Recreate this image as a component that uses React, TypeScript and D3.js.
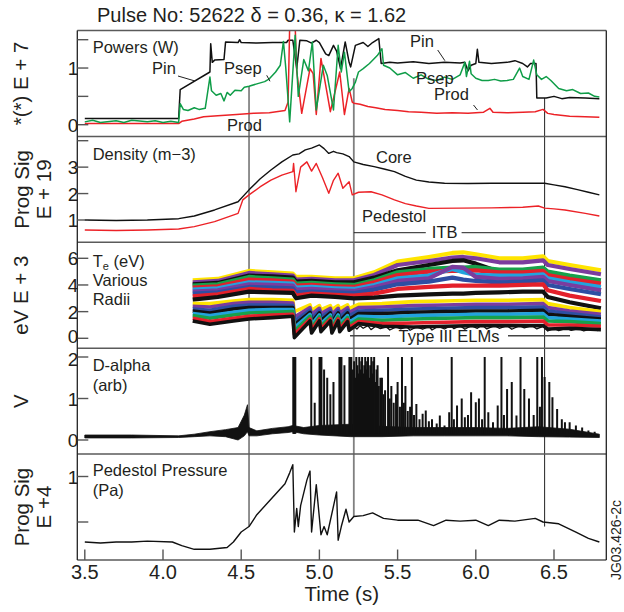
import React from 'react';
import * as d3 from 'd3';

const W = 624;
const H = 612;
const FONT = '"Liberation Sans", Arial, Helvetica, sans-serif';
const INK = '#231f20';

// ---- axis / layout data ----
const X_TICKS = [3.5, 4.0, 4.5, 5.0, 5.5, 6.0, 6.5];
const MARKER_T = [4.55, 5.22, 6.44];
const MARKER_TOP_P = [0.68, 0.82, 0.47]; // power value where marker starts
const MARKER_BOT_PP = [0.45, 0.56, 0.45]; // pressure value where marker ends

// ---- Powers (W) ----
const PIN: [number, number][] = [
  [3.5, 0.11], [4.1, 0.11], [4.11, 0.62], [4.3, 0.93], [4.305, 1.43], [4.315, 1.1], [4.33, 1.14],
  [4.39, 1.15], [4.4, 1.46], [4.48, 1.45], [4.49, 1.5], [4.5, 1.45], [4.6, 1.44], [4.7, 1.45],
  [4.79, 1.45], [4.8, 1.49], [4.83, 1.49], [4.855, 0.99], [4.875, 1.49], [4.92, 1.48], [4.95, 1.44],
  [4.98, 1.49], [5.0, 1.45], [5.04, 1.25], [5.06, 1.22], [5.09, 1.4], [5.11, 1.3], [5.135, 0.99],
  [5.165, 1.46], [5.19, 1.1], [5.2, 1.02], [5.23, 1.4], [5.28, 1.45], [5.31, 1.38], [5.34, 1.45],
  [5.38, 1.52], [5.395, 1.08], [5.45, 1.1], [5.5, 1.09], [5.6, 1.11], [5.7, 1.08], [5.8, 1.1],
  [5.9, 1.09], [5.93, 1.1], [5.95, 0.95], [5.97, 1.05], [6.0, 1.08], [6.01, 1.33], [6.02, 1.1],
  [6.1, 1.08], [6.2, 1.1], [6.25, 1.13], [6.3, 1.08], [6.33, 1.02], [6.35, 1.08], [6.385, 1.08],
  [6.39, 0.47], [6.45, 0.47], [6.5, 0.5], [6.55, 0.46], [6.6, 0.48], [6.7, 0.47], [6.79, 0.46],
];
const PSEP: [number, number][] = [
  [3.5, 0.05], [3.55, 0.08], [3.6, 0.04], [3.7, 0.07], [3.75, 0.04], [3.8, 0.08], [3.9, 0.05],
  [3.95, 0.07], [4.0, 0.04], [4.05, 0.06], [4.1, 0.04], [4.11, 0.37], [4.13, 0.27], [4.16, 0.25],
  [4.2, 0.3], [4.23, 0.27], [4.27, 0.29], [4.3, 0.84], [4.31, 0.6], [4.34, 0.52], [4.37, 0.55],
  [4.39, 0.42], [4.41, 0.57], [4.43, 0.52], [4.46, 0.61], [4.5, 0.6], [4.52, 0.66], [4.55, 0.68],
  [4.6, 0.72], [4.65, 0.76], [4.68, 0.81], [4.72, 0.93], [4.75, 1.05], [4.77, 1.47], [4.785, 1.0],
  [4.81, 0.05], [4.845, 1.58], [4.865, 0.5], [4.9, 1.15], [4.93, 0.95], [4.955, 1.46], [4.98, 0.26],
  [5.025, 1.05], [5.05, 0.87], [5.09, 0.26], [5.12, 1.4], [5.14, 0.93], [5.16, 1.28], [5.19, 0.58],
  [5.21, 0.64], [5.23, 0.75], [5.25, 0.93], [5.28, 0.99], [5.32, 1.08], [5.37, 1.22], [5.4, 1.34],
  [5.41, 1.05], [5.45, 1.0], [5.5, 0.88], [5.55, 0.92], [5.6, 0.82], [5.65, 0.88], [5.7, 0.8],
  [5.75, 0.78], [5.8, 0.84], [5.85, 0.8], [5.9, 0.88], [5.93, 1.1], [5.94, 0.85], [5.96, 1.12],
  [5.97, 0.9], [6.0, 0.82], [6.04, 0.78], [6.08, 0.78], [6.12, 0.8], [6.16, 0.77], [6.2, 0.78],
  [6.24, 0.8], [6.28, 1.0], [6.3, 0.85], [6.34, 0.8], [6.37, 1.14], [6.39, 0.88], [6.42, 0.8],
  [6.45, 0.85], [6.48, 0.78], [6.53, 0.64], [6.58, 0.6], [6.62, 0.62], [6.67, 0.55], [6.72, 0.56],
  [6.76, 0.5], [6.79, 0.49],
];
const PROD: [number, number][] = [
  [3.5, 0.02], [4.1, 0.02], [4.12, 0.06], [4.2, 0.1], [4.26, 0.14], [4.35, 0.16], [4.47, 0.18],
  [4.58, 0.2], [4.68, 0.21], [4.78, 0.25], [4.8, 0.4], [4.81, 1.75], [4.845, 1.75], [4.855, 0.95],
  [4.887, 0.2], [4.94, 0.99], [4.96, 0.9], [4.98, 0.18], [5.01, 1.17], [5.04, 0.7], [5.07, 0.23],
  [5.13, 0.93], [5.16, 0.18], [5.19, 0.64], [5.21, 0.4], [5.22, 0.38], [5.26, 0.36], [5.31, 0.32],
  [5.36, 0.3], [5.42, 0.27], [5.5, 0.25], [5.57, 0.23], [5.65, 0.22], [5.75, 0.2], [5.85, 0.21],
  [5.95, 0.2], [6.0, 0.21], [6.05, 0.22], [6.09, 0.29], [6.11, 0.22], [6.2, 0.21], [6.3, 0.22],
  [6.38, 0.23], [6.43, 0.27], [6.46, 0.2], [6.5, 0.18], [6.6, 0.15], [6.7, 0.14], [6.79, 0.13],
];

// ---- Density (m-3) ----
const CORE: [number, number][] = [
  [3.5, 1.0], [3.7, 0.98], [3.9, 1.0], [4.1, 1.05], [4.2, 1.15], [4.33, 1.38], [4.48, 1.69],
  [4.55, 2.14], [4.62, 2.55], [4.69, 2.89], [4.76, 3.2], [4.83, 3.46], [4.87, 3.5], [4.91, 3.65],
  [4.95, 3.72], [5.0, 3.84], [5.03, 3.7], [5.06, 3.52], [5.09, 3.6], [5.11, 3.55], [5.15, 3.5],
  [5.19, 3.4], [5.22, 3.2], [5.28, 3.1], [5.35, 3.02], [5.42, 2.92], [5.48, 2.83], [5.55, 2.65],
  [5.62, 2.51], [5.7, 2.44], [5.8, 2.39], [5.95, 2.38], [6.1, 2.39], [6.3, 2.39], [6.44, 2.39],
  [6.5, 2.33], [6.57, 2.26], [6.65, 2.15], [6.72, 2.05], [6.79, 1.95],
];
const PED: [number, number][] = [
  [3.5, 0.62], [3.7, 0.6], [3.9, 0.62], [4.1, 0.66], [4.2, 0.75], [4.33, 0.94], [4.48, 1.25],
  [4.51, 1.76], [4.55, 1.95], [4.62, 2.25], [4.69, 2.51], [4.76, 2.7], [4.83, 2.83], [4.835, 3.14],
  [4.85, 2.07], [4.88, 3.0], [4.92, 3.2], [4.95, 2.85], [4.98, 3.14], [5.02, 2.6], [5.06, 2.01],
  [5.09, 2.5], [5.12, 2.77], [5.15, 2.2], [5.19, 2.45], [5.21, 1.95], [5.25, 2.05], [5.33, 2.07],
  [5.4, 1.95], [5.48, 1.76], [5.55, 1.62], [5.62, 1.53], [5.7, 1.44], [5.9, 1.45], [6.1, 1.46],
  [6.3, 1.48], [6.4, 1.53], [6.44, 1.45], [6.5, 1.42], [6.57, 1.38], [6.7, 1.25], [6.79, 1.15],
];

// ---- Te (eV), various radii ----
const TE_UPPER_T = [4.19, 4.35, 4.55, 4.7, 4.83, 4.85, 4.95, 5.1, 5.22, 5.35, 5.5, 5.7, 5.85, 5.92, 6.0, 6.15, 6.3, 6.43, 6.46, 6.6, 6.8];
const TE_UPPER = [
  [4.35, 4.45, 5.05, 4.95, 4.85, 4.6, 4.6, 4.5, 4.5, 4.95, 5.75, 6.1, 6.4, 6.45, 6.3, 6.0, 6.0, 6.15, 5.8, 5.5, 5.1],
  [4.2, 4.3, 4.9, 4.8, 4.7, 4.4, 4.45, 4.35, 4.35, 4.75, 5.5, 5.8, 6.05, 6.1, 6.0, 5.7, 5.7, 5.85, 5.5, 5.2, 4.8],
  [4.05, 4.15, 4.7, 4.65, 4.55, 4.25, 4.3, 4.2, 4.2, 4.55, 5.1, 5.5, 5.8, 5.85, 5.6, 5.0, 4.95, 4.9, 4.6, 4.1, 3.6],
  [3.95, 4.05, 4.6, 4.5, 4.4, 4.1, 4.15, 4.05, 4.0, 4.35, 4.95, 5.2, 5.3, 5.3, 5.35, 5.15, 5.15, 5.3, 5.0, 4.7, 4.35],
  [3.8, 3.9, 4.4, 4.35, 4.25, 3.95, 4.0, 3.9, 3.85, 4.2, 4.75, 5.0, 5.05, 5.05, 5.1, 4.95, 4.95, 5.05, 4.75, 4.45, 4.1],
  [3.65, 3.75, 4.2, 4.15, 4.1, 3.8, 3.85, 3.75, 3.7, 4.0, 4.5, 4.7, 5.2, 4.95, 4.75, 4.7, 4.7, 4.8, 4.5, 4.2, 3.85],
  [3.5, 3.6, 4.05, 4.0, 3.95, 3.65, 3.7, 3.6, 3.55, 3.85, 4.3, 4.5, 5.35, 5.3, 4.6, 4.45, 4.5, 4.6, 4.3, 4.0, 3.6],
  [3.35, 3.45, 3.85, 3.8, 3.75, 3.45, 3.5, 3.45, 3.4, 3.65, 4.05, 4.25, 4.55, 4.4, 4.3, 4.2, 4.25, 4.35, 4.0, 3.7, 3.3],
  [3.15, 3.3, 3.7, 3.6, 3.55, 3.2, 3.35, 3.25, 3.2, 3.35, 3.7, 3.85, 3.95, 3.95, 3.95, 3.95, 4.0, 4.05, 3.6, 3.2, 2.8],
  [2.9, 3.1, 3.5, 3.45, 3.4, 3.0, 3.2, 3.1, 3.0, 3.05, 3.2, 3.3, 3.35, 3.35, 3.4, 3.45, 3.5, 3.5, 3.1, 2.7, 2.25],
];
const TE_UPPER_COLORS = ['#ffe400', '#7b3c9e', '#111111', '#17a14b', '#e3202b', '#22a3dd', '#7b3c9e', '#2e4ea3', '#e3202b', '#111111'];

const TE_LOWER_T = [4.19, 4.3, 4.45, 4.55, 4.7, 4.83, 4.84, 4.94, 4.95, 5.0, 5.01, 5.07, 5.08, 5.12, 5.13, 5.18, 5.19, 5.25, 5.4, 5.6, 5.8, 6.0, 6.2, 6.43, 6.46, 6.6, 6.8];
const TE_LOWER = [
  [2.6, 2.6, 2.8, 2.9, 2.9, 2.85, 2.0, 2.5, 2.1, 2.45, 2.15, 2.45, 2.15, 2.45, 2.2, 2.5, 2.25, 2.55, 2.6, 2.75, 2.8, 2.85, 2.85, 2.9, 2.6, 2.3, 2.0],
  [2.4, 2.35, 2.6, 2.7, 2.7, 2.65, 1.6, 2.3, 1.8, 2.25, 1.85, 2.25, 1.8, 2.25, 1.9, 2.3, 1.95, 2.3, 2.35, 2.45, 2.5, 2.55, 2.55, 2.6, 2.3, 2.05, 1.8],
  [2.2, 2.1, 2.4, 2.5, 2.5, 2.45, 1.3, 2.1, 1.5, 2.05, 1.6, 2.05, 1.5, 2.05, 1.6, 2.1, 1.7, 2.05, 2.1, 2.2, 2.25, 2.3, 2.3, 2.35, 2.05, 1.85, 1.6],
  [2.05, 1.9, 2.2, 2.3, 2.3, 2.3, 1.0, 1.95, 1.2, 1.9, 1.3, 1.9, 1.2, 1.9, 1.3, 1.9, 1.4, 1.85, 1.85, 1.95, 2.0, 2.05, 2.05, 2.1, 1.8, 1.65, 1.45],
  [1.85, 1.7, 1.95, 2.1, 2.15, 2.15, 0.8, 1.8, 1.0, 1.75, 1.1, 1.75, 1.0, 1.75, 1.1, 1.7, 1.2, 1.65, 1.6, 1.7, 1.75, 1.8, 1.8, 1.85, 1.55, 1.45, 1.3],
  [1.7, 1.5, 1.75, 1.9, 1.95, 2.0, 0.55, 1.65, 0.8, 1.6, 0.9, 1.6, 0.8, 1.6, 0.9, 1.55, 1.0, 1.45, 1.35, 1.45, 1.5, 1.55, 1.55, 1.6, 1.3, 1.25, 1.1],
  [1.5, 1.25, 1.5, 1.65, 1.75, 1.8, 0.3, 1.45, 0.6, 1.45, 0.7, 1.45, 0.6, 1.45, 0.7, 1.4, 0.8, 1.25, 1.1, 1.15, 1.2, 1.25, 1.25, 1.3, 1.0, 1.0, 0.9],
  [1.3, 1.05, 1.3, 1.45, 1.55, 1.65, 0.05, 1.3, 0.4, 1.3, 0.5, 1.3, 0.4, 1.3, 0.5, 1.25, 0.6, 1.1, 0.9, 0.85, 0.9, 0.95, 0.95, 0.95, 0.7, 0.75, 0.65],
];
const TE_LOWER_COLORS = ['#ffe400', '#7b3c9e', '#2e4ea3', '#111111', '#22a3dd', '#17a14b', '#e3202b', '#111111'];

// jagged lower edge of the Te band (type III ELM drops)
const TE_EDGE: [number, number][] = [
  [5.22, 0.9], [5.24, 0.7], [5.26, 0.95], [5.28, 0.75], [5.31, 0.95], [5.33, 0.65], [5.36, 0.9],
  [5.39, 0.72], [5.43, 0.85], [5.45, 0.62], [5.49, 0.85], [5.52, 0.7], [5.56, 0.85], [5.58, 0.6],
  [5.62, 0.85], [5.66, 0.68], [5.7, 0.9], [5.72, 0.62], [5.76, 0.9], [5.8, 0.7], [5.84, 0.95],
  [5.86, 0.72], [5.9, 0.95], [5.93, 0.68], [5.97, 0.95], [6.01, 0.75], [6.04, 1.0], [6.07, 0.7],
  [6.12, 0.95], [6.15, 0.75], [6.2, 0.95], [6.23, 0.68], [6.28, 0.95], [6.31, 0.78], [6.36, 0.95],
  [6.39, 0.7], [6.43, 0.9], [6.46, 0.55], [6.5, 0.75], [6.53, 0.58], [6.58, 0.75], [6.61, 0.6],
  [6.66, 0.72], [6.69, 0.55], [6.74, 0.7], [6.78, 0.58],
];

// ---- D-alpha (arb) ----
const DA_BAND: [number, number, number][] = [
  [3.5, 0.05, 0.12], [3.8, 0.05, 0.12], [4.1, 0.06, 0.1], [4.2, 0.08, 0.14], [4.3, 0.1, 0.2],
  [4.4, 0.08, 0.25], [4.48, 0.0, 0.3], [4.52, 0.1, 0.6], [4.54, 0.2, 0.85], [4.55, 0.1, 0.3],
  [4.6, 0.1, 0.22], [4.7, 0.15, 0.28], [4.8, 0.18, 0.32], [4.83, 0.2, 0.35], [4.9, 0.15, 0.3],
  [5.0, 0.12, 0.35], [5.2, 0.08, 0.38], [5.4, 0.08, 0.33], [5.6, 0.1, 0.3], [5.8, 0.1, 0.3],
  [6.0, 0.1, 0.3], [6.2, 0.1, 0.28], [6.4, 0.08, 0.32], [6.6, 0.07, 0.26], [6.79, 0.06, 0.14],
];
const DA_SPIKES: [number, number][] = [
  [4.833, 2], [4.838, 2], [4.842, 2], [4.846, 2], [4.948, 2], [4.97, 0.9],
  [5.001, 2], [5.006, 2], [5.013, 2], [5.03, 1.7], [5.05, 1.5], [5.07, 1.1], [5.09, 1.4], [5.128, 2],
  [5.134, 2], [5.141, 2], [5.16, 1.8], [5.192, 2], [5.198, 2], [5.204, 2], [5.215, 1.7], [5.222, 1.9],
  [5.229, 1.5], [5.236, 2], [5.243, 1.8], [5.25, 1.6], [5.255, 2], [5.262, 1.7], [5.268, 1.9], [5.273, 2],
  [5.28, 1.6], [5.287, 1.8], [5.293, 2], [5.3, 1.7], [5.305, 1.9], [5.311, 2], [5.318, 1.5], [5.325, 1.8],
  [5.332, 2], [5.338, 1.6], [5.344, 1.9], [5.35, 2], [5.357, 1.4], [5.365, 1.7], [5.372, 1.8], [5.38, 1.3],
  [5.39, 1.5], [5.4, 1.5], [5.41, 1.1], [5.42, 1.2], [5.439, 2], [5.45, 1.0], [5.46, 1.3], [5.475, 0.9],
  [5.49, 1.1], [5.5, 1.4], [5.515, 0.8], [5.528, 2], [5.54, 0.9], [5.55, 1.3], [5.565, 0.7], [5.58, 0.8],
  [5.591, 2], [5.605, 0.6], [5.62, 0.87], [5.64, 0.5], [5.66, 0.63], [5.68, 0.71], [5.7, 0.45], [5.72, 0.5],
  [5.75, 0.4], [5.77, 0.59], [5.8, 0.35], [5.83, 0.67], [5.846, 2], [5.86, 0.5], [5.88, 0.83], [5.91, 1.0],
  [5.93, 0.55], [5.95, 0.6], [5.97, 1.15], [6.0, 0.91], [6.02, 1.0], [6.04, 0.5], [6.057, 2], [6.08, 0.67],
  [6.11, 0.43], [6.14, 0.83], [6.164, 2], [6.18, 0.6], [6.2, 1.23], [6.23, 1.4], [6.26, 0.59], [6.286, 2],
  [6.31, 1.23], [6.34, 1.0], [6.37, 0.6], [6.393, 2], [6.41, 0.8], [6.423, 2], [6.44, 1.52], [6.47, 1.4],
  [6.49, 1.03], [6.52, 0.75], [6.55, 0.5], [6.57, 0.43], [6.6, 0.43], [6.64, 0.35], [6.68, 0.3],
  [6.72, 0.23], [6.76, 0.2],
];

// ---- Pedestol pressure (Pa) ----
const PRESS: [number, number][] = [
  [3.5, 0.28], [3.6, 0.27], [3.7, 0.28], [3.8, 0.28], [3.9, 0.29], [4.06, 0.28], [4.12, 0.24],
  [4.2, 0.2], [4.3, 0.2], [4.41, 0.22], [4.45, 0.28], [4.5, 0.39], [4.55, 0.45], [4.6, 0.58],
  [4.7, 0.77], [4.78, 0.92], [4.81, 1.04], [4.83, 1.13], [4.84, 0.39], [4.855, 0.65], [4.865, 0.45],
  [4.88, 0.68], [4.92, 0.96], [4.94, 1.06], [4.95, 0.39], [4.98, 0.91], [5.01, 0.36], [5.03, 0.45],
  [5.05, 0.36], [5.11, 0.83], [5.12, 0.3], [5.14, 0.45], [5.17, 0.64], [5.19, 0.5], [5.22, 0.56],
  [5.28, 0.57], [5.34, 0.6], [5.41, 0.54], [5.5, 0.52], [5.63, 0.52], [5.73, 0.46], [5.81, 0.52],
  [5.9, 0.51], [6.0, 0.52], [6.08, 0.46], [6.15, 0.52], [6.25, 0.51], [6.38, 0.54], [6.43, 0.5],
  [6.53, 0.48], [6.64, 0.39], [6.72, 0.32], [6.79, 0.28],
];

// ---- geometry ----
const LEFT = 77.3;
const RIGHT = 606.3;
const BOUNDS = [30.5, 136.4, 242.3, 348.2, 454.1, 560];

const x = d3.scaleLinear().domain([3.5, 6.5]).range([84.8, 554]);
const yP = d3.scaleLinear().domain([0, 1.5]).range([124.7, 39.7]);
const yN = d3.scaleLinear().domain([1, 4]).range([220, 140.7]);
const yT = d3.scaleLinear().domain([0, 6]).range([338.3, 258.3]);
const yD = d3.scaleLinear().domain([0, 2]).range([440, 357]);
const yPP = d3.scaleLinear().domain([0.5, 1]).range([522, 476.5]);

// dy nudges keep the "0" of the Te panel and the "2" of D-alpha apart
const PANEL_TICKS: { scale: d3.ScaleLinear<number, number>; ticks: number[]; labels: number[]; nudge?: Record<number, number> }[] = [
  { scale: yP, ticks: [0, 0.5, 1, 1.5], labels: [0, 1] },
  { scale: yN, ticks: [1, 2, 3, 4], labels: [1, 2, 3] },
  { scale: yT, ticks: [0, 2, 4, 6], labels: [0, 2, 4, 6], nudge: { 0: -2 } },
  { scale: yD, ticks: [0, 1, 2], labels: [0, 1, 2], nudge: { 2: 2 } },
  { scale: yPP, ticks: [0.5, 1], labels: [1] },
];

const Y_TITLES: string[][] = [['*(*) E + 7'], ['Prog Sig', 'E + 19'], ['eV E + 3'], ['V'], ['Prog Sig', 'E +4']];

function linePath(data: [number, number][], y: d3.ScaleLinear<number, number>) {
  return d3.line<[number, number]>().x(d => x(d[0])).y(d => y(d[1]))(data) || '';
}
function rowPath(ts: number[], vs: number[], y: d3.ScaleLinear<number, number>) {
  return d3.line<number>().x((_, i) => x(ts[i])).y(v => y(v))(vs) || '';
}

export default function App() {
  const daArea = d3.area<[number, number, number]>()
    .x(d => x(d[0])).y0(d => yD(d[1])).y1(d => yD(d[2]))(DA_BAND) || '';

  const txt = { fontFamily: FONT, fill: INK } as const;

  return (
    <svg width={W} height={H} style={{ position: 'absolute', left: 0, top: 0, background: '#fff' }}>
      <defs>
        {BOUNDS.slice(0, 5).map((b, i) => (
          <clipPath id={`clip${i}`} key={i}>
            <rect x={LEFT} y={b} width={RIGHT - LEFT} height={BOUNDS[i + 1] - b} />
          </clipPath>
        ))}
      </defs>

      {/* title */}
      <text x={97} y={21.7} fontSize={20} {...txt}>Pulse No: 52622 δ = 0.36, κ = 1.62</text>

      {/* event markers */}
      {MARKER_T.map((t, i) => (
        <line key={i} x1={x(t)} x2={x(t)} y1={yP(MARKER_TOP_P[i])} y2={yPP(MARKER_BOT_PP[i])}
          stroke={i === 1 ? '#808080' : '#222'} strokeWidth={i === 1 ? 1.8 : 1} />
      ))}

      {/* panel 1: powers */}
      <g clipPath="url(#clip0)" fill="none" strokeWidth={1.5} strokeLinejoin="round">
        <path d={linePath(PIN, yP)} stroke="#111" />
        <path d={linePath(PROD, yP)} stroke="#ec2227" />
        <path d={linePath(PSEP, yP)} stroke="#0f9d48" />
      </g>

      {/* panel 2: density */}
      <g clipPath="url(#clip1)" fill="none" strokeWidth={1.4} strokeLinejoin="round">
        <path d={linePath(CORE, yN)} stroke="#111" />
        <path d={linePath(PED, yN)} stroke="#ec2227" />
      </g>

      {/* panel 3: Te */}
      <g clipPath="url(#clip2)" fill="none" strokeLinejoin="round">
        {TE_UPPER.map((row, i) => (
          <path key={`u${i}`} d={rowPath(TE_UPPER_T, row, yT)} stroke={TE_UPPER_COLORS[i]} strokeWidth={4.2} />
        ))}
        <path d={linePath(TE_EDGE, yT)} stroke="#111" strokeWidth={1.3} />
        {TE_LOWER.map((row, i) => (
          <path key={`l${i}`} d={rowPath(TE_LOWER_T, row, yT)} stroke={TE_LOWER_COLORS[i]} strokeWidth={3.6} />
        ))}
      </g>

      {/* panel 4: D-alpha */}
      <g clipPath="url(#clip3)">
        <path d={daArea} fill="#111" stroke="#111" strokeWidth={0.8} />
        {DA_SPIKES.map((s, i) => (
          <line key={i} x1={x(s[0])} x2={x(s[0])} y1={yD(0.15)} y2={yD(s[1])} stroke="#111" strokeWidth={2} />
        ))}
      </g>

      {/* panel 5: pressure */}
      <g clipPath="url(#clip4)" fill="none" strokeWidth={1.4} strokeLinejoin="round">
        <path d={linePath(PRESS, yPP)} stroke="#111" />
      </g>

      {/* frame */}
      {BOUNDS.map((b, i) => (
        <line key={i} x1={LEFT} x2={RIGHT} y1={b} y2={b} stroke="#5a5a5a" strokeWidth={1.5} />
      ))}
      <line x1={LEFT} x2={LEFT} y1={BOUNDS[0]} y2={BOUNDS[5]} stroke="#222" strokeWidth={1.3} />
      <line x1={RIGHT} x2={RIGHT} y1={BOUNDS[0]} y2={BOUNDS[5]} stroke="#222" strokeWidth={1.3} />

      {/* y ticks + labels */}
      {PANEL_TICKS.map((p, i) => (
        <g key={i}>
          {p.ticks.map(t => (
            <line key={t} x1={LEFT} x2={LEFT + 11} y1={p.scale(t)} y2={p.scale(t)} stroke="#555" strokeWidth={1.4} />
          ))}
          {p.labels.map(t => (
            <text key={t} x={LEFT + 1} y={p.scale(t) + 7 + (p.nudge?.[t] ?? 0)} fontSize={19} textAnchor="end" {...txt}>{t}</text>
          ))}
        </g>
      ))}

      {/* x ticks + labels */}
      {X_TICKS.map(t => (
        <g key={t}>
          <line x1={x(t)} x2={x(t)} y1={BOUNDS[5]} y2={BOUNDS[5] - 10.5} stroke="#555" strokeWidth={1.4} />
          <text x={x(t)} y={579} fontSize={20} textAnchor="middle" {...txt}>{t.toFixed(1)}</text>
        </g>
      ))}
      <text x={(LEFT + RIGHT) / 2} y={601} fontSize={20.5} textAnchor="middle" {...txt}>Time (s)</text>

      {/* y titles */}
      {Y_TITLES.map((lines, i) => {
        const yc = (BOUNDS[i] + BOUNDS[i + 1]) / 2;
        return lines.map((s, j) => {
          const bx = lines.length === 1 ? 28 : (j === 0 ? 29 : 51);
          return (
            <text key={`${i}-${j}`} transform={`translate(${bx},${yc}) rotate(-90)`} fontSize={20.5}
              textAnchor="middle" {...txt}>{s}</text>
          );
        });
      })}

      {/* panel annotations */}
      <g fontSize={16.5} {...txt}>
        <text x={92.7} y={53}>Powers (W)</text>
        <text x={152} y={74}>Pin</text>
        <text x={224} y={74}>Psep</text>
        <text x={227} y={131}>Prod</text>
        <text x={410} y={46.7}>Pin</text>
        <text x={416} y={83.5}>Psep</text>
        <text x={434} y={100}>Prod</text>

        <text x={92.7} y={160}>Density (m−3)</text>
        <text x={376} y={162.7}>Core</text>
        <text x={362} y={221.7}>Pedestol</text>
        <text x={444.7} y={238} textAnchor="middle">ITB</text>

        <text x={92.7} y={266.5}>T<tspan fontSize={11} dy={3}>e</tspan><tspan dy={-3}> (eV)</tspan></text>
        <text x={92.7} y={285.5}>Various</text>
        <text x={92.7} y={305}>Radii</text>
        <text x={449} y={341.7} textAnchor="middle">Type III ELMs</text>

        <text x={92.7} y={371}>D-alpha</text>
        <text x={92.7} y={391}>(arb)</text>

        <text x={92.7} y={476}>Pedestol Pressure</text>
        <text x={92.7} y={496}>(Pa)</text>
      </g>

      {/* leader lines */}
      <g stroke="#222" strokeWidth={1} fill="none">
        <line x1={178} y1={76} x2={195} y2={81} />
        <line x1={266.7} y1={75.3} x2={270} y2={81.3} />
        <line x1={437.7} y1={50} x2={444.9} y2={60.7} />
        <line x1={473.5} y1={105} x2={477.5} y2={110} />
        <line x1={x(5.22)} x2={425.8} y1={232.7} y2={232.7} />
        <line x1={461.6} x2={x(6.44)} y1={232.7} y2={232.7} />
        <line x1={350} x2={390} y1={335.7} y2={335.7} stroke="#444" strokeWidth={1.5} />
        <line x1={508} x2={570} y1={335.7} y2={335.7} stroke="#444" strokeWidth={1.5} />
      </g>

      <text transform="translate(621,540) rotate(-90)" fontSize={14} textAnchor="middle" {...txt}>JG03.426-2c</text>
    </svg>
  );
}
